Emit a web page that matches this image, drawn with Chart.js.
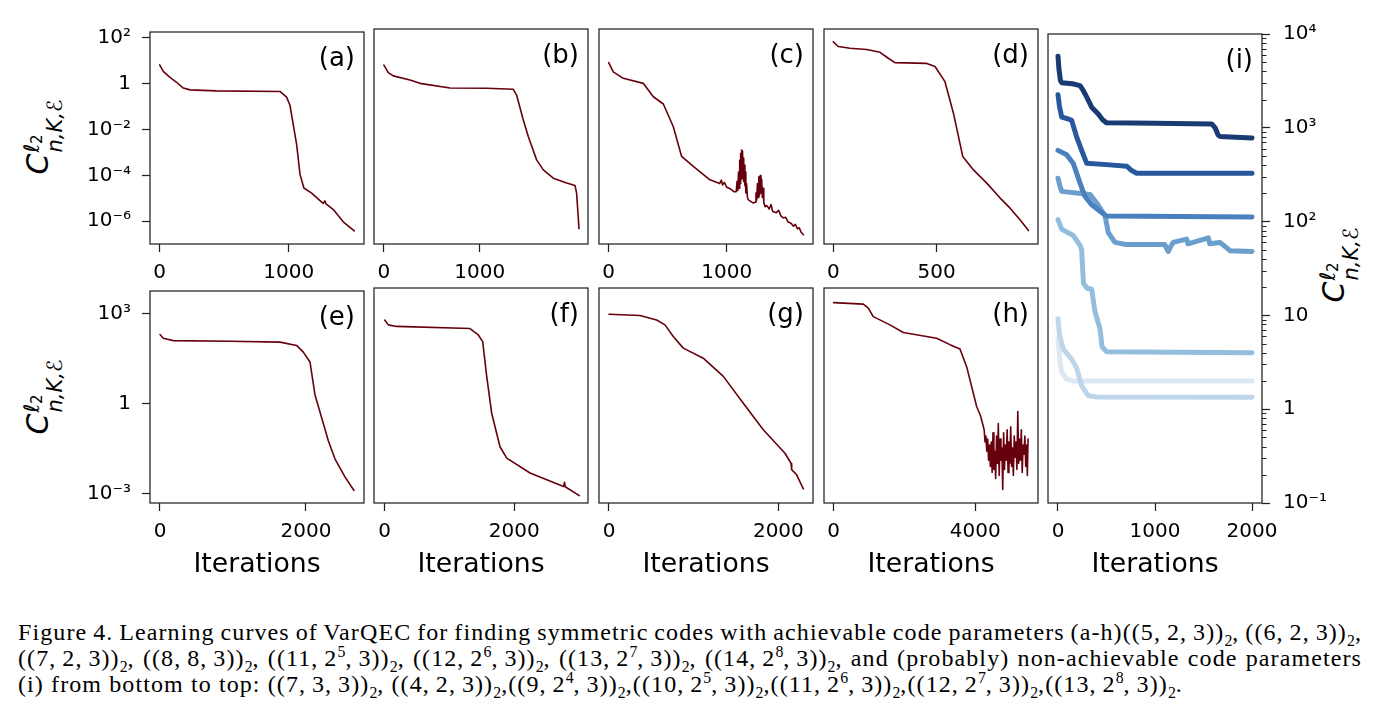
<!DOCTYPE html>
<html>
<head>
<meta charset="utf-8">
<title>VarQEC learning curves</title>
<script src="https://cdn.jsdelivr.net/npm/chart.js@4.4.1/dist/chart.umd.min.js"></script>
<style>
body{margin:0;background:#fff;width:1382px;height:716px;position:relative;overflow:hidden;font-family:"DejaVu Sans",sans-serif;color:#000;}
canvas{position:absolute;}
.ylab{position:absolute;transform:translate(-50%,-50%) rotate(-90deg);white-space:nowrap;font-size:30px;font-style:italic;line-height:1;}
.ss{display:inline-flex;flex-direction:column;font-size:0.7em;line-height:1;vertical-align:0.42em;margin-left:1px;}
.ss .up{font-style:italic;}
.ss .up sub{font-style:normal;font-size:0.72em;vertical-align:-0.2em;}
.cap{position:absolute;left:18px;font-family:"Liberation Serif","DejaVu Serif",serif;font-size:24px;letter-spacing:1.1px;white-space:nowrap;line-height:1;}
.cap sub,.cap sup{font-size:0.66em;line-height:0;letter-spacing:0;}
</style>
</head>
<body>

<div class="ylab" style="left:44px;top:137px">C<span class="ss"><span class="up">ℓ<sub>2</sub></span><span>n,K,ℰ</span></span></div>
<div class="ylab" style="left:44px;top:397px">C<span class="ss"><span class="up">ℓ<sub>2</sub></span><span>n,K,ℰ</span></span></div>
<div class="ylab" style="left:1340px;top:265px">C<span class="ss"><span class="up">ℓ<sub>2</sub></span><span>n,K,ℰ</span></span></div>

<div class="cap just" style="top:620px">Figure 4. Learning curves of VarQEC for finding symmetric codes with achievable code parameters (a-h)((5,&thinsp;2,&thinsp;3))<sub>2</sub>, ((6,&thinsp;2,&thinsp;3))<sub>2</sub>,</div>
<div class="cap just" style="top:646px">((7,&thinsp;2,&thinsp;3))<sub>2</sub>, ((8,&thinsp;8,&thinsp;3))<sub>2</sub>, ((11,&thinsp;2<sup>5</sup>,&thinsp;3))<sub>2</sub>, ((12,&thinsp;2<sup>6</sup>,&thinsp;3))<sub>2</sub>, ((13,&thinsp;2<sup>7</sup>,&thinsp;3))<sub>2</sub>, ((14,&thinsp;2<sup>8</sup>,&thinsp;3))<sub>2</sub>, and (probably) non-achievable code parameters</div>
<div class="cap" style="top:672px">(i) from bottom to top: ((7,&thinsp;3,&thinsp;3))<sub>2</sub>, ((4,&thinsp;2,&thinsp;3))<sub>2</sub>,((9,&thinsp;2<sup>4</sup>,&thinsp;3))<sub>2</sub>,((10,&thinsp;2<sup>5</sup>,&thinsp;3))<sub>2</sub>,((11,&thinsp;2<sup>6</sup>,&thinsp;3))<sub>2</sub>,((12,&thinsp;2<sup>7</sup>,&thinsp;3))<sub>2</sub>,((13,&thinsp;2<sup>8</sup>,&thinsp;3))<sub>2</sub>.</div>

<script>
// ---- data (iterations / cost) ----
var aIter = [0, 28, 80, 131, 183, 235, 441, 932, 984, 1010, 1036, 1062, 1088, 1118, 1178, 1243, 1268, 1281, 1290, 1346, 1423, 1470, 1509];
var aCost = [6.7, 3.5, 1.9, 1.16, 0.65, 0.54, 0.49, 0.46, 0.26, 0.115, 0.016, 2.2e-3, 1.1e-4, 2.8e-5, 1.66e-5, 7.9e-6, 6.0e-6, 7.6e-6, 5.6e-6, 3.2e-6, 9.3e-7, 5.6e-7, 3.7e-7];

var bIter = [0, 45, 97, 272, 376, 690, 1073, 1351, 1386, 1456, 1508, 1595, 1665, 1769, 1909, 1996, 2013, 2038];
var bCost = [5.1, 2.4, 1.74, 1.16, 0.83, 0.52, 0.51, 0.46, 0.26, 0.022, 4.3e-3, 4.2e-4, 1.55e-4, 6.8e-5, 4.2e-5, 3.3e-5, 1.55e-5, 4.6e-7];

var cIter = [0, 39, 124, 293, 378, 463, 547, 618, 717, 858, 940, 955, 965, 980, 1000, 1020, 1040, 1060,
  1080, 1088, 1094, 1100, 1106, 1110, 1114, 1118, 1122, 1126, 1130, 1134, 1138, 1142, 1146, 1150, 1154, 1158, 1162, 1168, 1176, 1184, 1226,
  1240, 1248, 1254, 1260, 1266, 1272, 1278, 1284, 1290, 1296, 1302, 1308, 1314, 1325,
  1340, 1360, 1375, 1390, 1420, 1440, 1460, 1480, 1500, 1520, 1545, 1565, 1580, 1600, 1615, 1630, 1650];
var cCost = [6.5, 2.6, 1.37, 0.83, 0.22, 0.107, 0.0115, 5.9e-4, 2.2e-4, 5.8e-5, 4.0e-5, 5.6e-5, 3.5e-5, 4.5e-5, 2.8e-5, 2.5e-5, 2.2e-5, 1.8e-5,
  1.78e-5, 5.0e-5, 2.0e-5, 1.26e-4, 2.5e-5, 3.98e-4, 4.0e-5, 7.9e-4, 6.3e-5, 1.12e-3, 1.26e-4, 1.0e-3, 7.9e-5, 5.0e-4, 5.0e-5, 2.5e-4, 3.2e-5, 1.26e-4, 1.58e-5, 4.0e-5, 1.0e-5, 7.9e-6, 5.8e-6,
  6.3e-6, 1.58e-5, 7.9e-6, 4.0e-5, 1.0e-5, 7.9e-5, 1.26e-5, 8.9e-5, 1.58e-5, 6.3e-5, 1.0e-5, 2.5e-5, 6.3e-6, 4.0e-6,
  4.5e-6, 3.2e-6, 5.0e-6, 2.5e-6, 2.24e-6, 2.8e-6, 1.58e-6, 1.32e-6, 1.41e-6, 8.9e-7, 7.9e-7, 5.8e-7, 7.1e-7, 4.5e-7, 5.0e-7, 3.2e-7, 2.5e-7];

var dIter = [0, 24, 81, 161, 226, 266, 298, 452, 492, 540, 581, 626, 678, 742, 807, 855, 903, 944];
var dCost = [51, 32, 27, 24, 18, 10, 6.5, 6.0, 4.4, 0.98, 0.043, 5.9e-4, 1.55e-4, 4.2e-5, 9.5e-6, 3.5e-6, 1.1e-6, 3.8e-7];

var eIter = [0, 45, 182, 959, 1644, 1872, 1963, 2055, 2123, 2215, 2306, 2397, 2534, 2658];
var eCost = [200, 151, 126, 120, 112, 87, 52, 24.5, 2.0, 0.34, 0.059, 0.0148, 3.7e-3, 1.3e-3];

var fIter = [0, 56, 185, 1316, 1445, 1512, 1574, 1651, 1779, 1883, 2242, 2760, 2775, 2785, 3003];
var fCost = [500, 347, 309, 263, 162, 98, 7.1, 0.44, 0.035, 0.0148, 4.8e-3, 1.74e-3, 2.4e-3, 1.7e-3, 8.7e-4];

var gIter = [0, 366, 563, 661, 759, 877, 1113, 1350, 1586, 1822, 2078, 2137, 2150, 2157, 2216, 2295];
var gCost = [776, 708, 500, 347, 145, 60, 28, 7.1, 0.93, 0.126, 0.0214, 0.0115, 0.0098, 6.2e-3, 4.2e-3, 1.45e-3];

var hIter = [0, 836, 977, 1118, 1589, 1966, 2907, 3284, 3567, 3755, 4040, 4150,
  4250, 4275, 4300, 4325, 4350, 4375, 4400, 4425, 4450, 4475, 4500, 4525, 4550, 4575, 4600, 4625, 4650, 4675, 4700, 4725, 4750, 4775, 4800, 4825,
  4850, 4875, 4900, 4925, 4950, 4975, 5000, 5025, 5050, 5075, 5100, 5125, 5150, 5175, 5200, 5225, 5250, 5275, 5300, 5325, 5350, 5375, 5400, 5425, 5450, 5470, 5490];
var hCost = [1860, 1660, 1230, 646, 347, 195, 126, 78, 56, 14.8, 0.72, 0.355,
  0.126, 0.05, 0.079, 0.025, 0.063, 0.0126, 0.04, 7.9e-3, 0.05, 5.0e-3, 0.1, 6.3e-3, 0.025, 3.2e-3, 0.079, 0.01, 0.2, 4.0e-3, 0.063, 0.0126, 0.032, 1.4e-3, 0.1, 6.3e-3,
  0.04, 0.0126, 0.126, 5.0e-3, 0.05, 0.01, 0.158, 7.9e-3, 0.032, 4.0e-3, 0.079, 0.0158, 0.05, 6.3e-3, 0.5, 0.01, 0.063, 0.0126, 0.126, 5.0e-3, 0.04, 0.02, 0.079, 7.9e-3, 0.04, 4.0e-3, 0.063];

// panel (i): non-achievable parameters, top curve first
var i1Iter = [0, 10, 25, 38, 150, 227, 260, 295, 347, 413, 460, 500, 1000, 1585, 1620, 1650, 1670, 2000];
var i1Cost = [5800, 4200, 3200, 3030, 2950, 2820, 2500, 2140, 1660, 1410, 1220, 1130, 1120, 1100, 1000, 840, 810, 780];
var i2Iter = [0, 15, 38, 100, 141, 192, 244, 295, 500, 708, 760, 811, 2000];
var i2Cost = [2250, 1700, 1300, 1250, 1200, 800, 575, 420, 405, 390, 350, 328, 328];
var i3Iter = [0, 89, 158, 227, 278, 347, 433, 500, 2000];
var i3Cost = [575, 515, 417, 257, 186, 151, 129, 115, 112];
var i4Iter = [0, 20, 38, 330, 399, 485, 519, 588, 700, 1100, 1137, 1165, 1186, 1326, 1340, 1550, 1565, 1670, 1773, 2000];
var i4Cost = [290, 240, 210, 195, 158, 115, 76, 60, 57, 57, 48, 55, 60, 65, 58, 67, 58, 60, 49, 48];
var i5Iter = [0, 38, 158, 227, 244, 255, 263, 300, 347, 381, 433, 455, 502, 2000];
var i5Cost = [105, 83, 71, 56, 50, 30, 22, 19.5, 19, 11, 7.2, 4.6, 4.1, 4.0];
var i6Iter = [0, 15, 54, 141, 192, 244, 310, 400, 2000];
var i6Cost = [9.2, 6.2, 4.4, 3.4, 2.76, 1.78, 1.4, 1.35, 1.34];
var i7Iter = [0, 20, 38, 89, 150, 2000];
var i7Cost = [5.6, 3.3, 2.5, 2.1, 2.0, 2.0];

var topTicks = [1e-6, 1e-4, 1e-2, 1, 1e2];
var topTickLabels = ['10⁻⁶', '10⁻⁴', '10⁻²', '1', '10²'];
var botTicks = [1e-3, 1, 1e3];
var botTickLabels = ['10⁻³', '1', '10³'];
var iTicks = [0.1, 1, 10, 100, 1000, 10000];
var iTickLabels = ['10⁻¹', '1', '10', '10²', '10³', '10⁴'];

var red = '#67000d';
var blues = ['#1a3a73', '#27579d', '#4a80bd', '#6a9fcd', '#94bedd', '#bfd6ea', '#dce8f4'];
var FONT = 'DejaVu Sans';
var INK = '#222';

function panel(p) {
  var padL = p.yShow ? 150 : 10;
  var padR = p.yRight ? 120 : 34;
  var padT = 20, padB = p.title ? 80 : 50;
  var cv = document.createElement('canvas');
  var w = p.w + padL + padR, h = p.h + padT + padB;
  cv.width = w; cv.height = h;
  cv.style.left = (p.l - padL) + 'px';
  cv.style.top = (p.t - padT) + 'px';
  cv.style.width = w + 'px';
  cv.style.height = h + 'px';
  document.body.appendChild(cv);

  var deco = {
    id: 'deco',
    afterDraw: function (c) {
      var a = c.chartArea, ctx = c.ctx;
      ctx.save();
      ctx.strokeStyle = INK;
      ctx.lineWidth = 1.25;
      ctx.strokeRect(a.left, a.top, a.right - a.left, a.bottom - a.top);
      if (p.minor) {
        var s = c.scales.y;
        ctx.beginPath();
        p.minor.forEach(function (v) {
          var y = Math.round(s.getPixelForValue(v)) + 0.5;
          ctx.moveTo(a.right, y);
          ctx.lineTo(a.right + 4.5, y);
        });
        ctx.lineWidth = 1;
        ctx.stroke();
      }
      ctx.fillStyle = '#000';
      ctx.font = '26px "' + FONT + '"';
      ctx.textAlign = 'right';
      ctx.textBaseline = 'middle';
      ctx.fillText(p.label, a.right - 9, a.top + 27);
      ctx.restore();
    }
  };

  new Chart(cv, {
    type: 'line',
    data: {
      datasets: p.series.map(function (s) {
        return {
          data: s.x.map(function (x, i) { return { x: x, y: s.y[i] }; }),
          borderColor: s.color, borderWidth: s.width, pointRadius: 0, tension: 0,
          borderCapStyle: 'round', borderJoinStyle: 'round', fill: false
        };
      })
    },
    options: {
      responsive: false, animation: false, devicePixelRatio: 1,
      layout: { padding: { left: p.yRight ? padL : 0, right: p.yRight ? 0 : padR, top: padT, bottom: 0 } },
      plugins: { legend: { display: false }, tooltip: { enabled: false } },
      scales: {
        x: {
          type: 'linear', min: p.xMin, max: p.xMax, bounds: 'data',
          afterBuildTicks: function (s) { s.ticks = p.xTicks.map(function (v) { return { value: v }; }); },
          afterFit: function (s) { s.height = padB; },
          ticks: { autoSkip: false, maxRotation: 0, padding: 9, color: '#000', font: { family: FONT, size: 20 },
            callback: function (v) { return String(v); } },
          grid: { display: true, drawOnChartArea: false, drawTicks: true, tickLength: 8, tickColor: INK, tickWidth: 1.25 },
          border: { display: false },
          title: { display: !!p.title, text: 'Iterations', color: '#000', font: { family: FONT, size: 26.7 }, padding: { top: 0, bottom: 2 } }
        },
        y: {
          type: 'logarithmic', position: p.yRight ? 'right' : 'left', min: p.yMin, max: p.yMax, bounds: 'data',
          afterBuildTicks: function (s) { s.ticks = p.yTicks.map(function (v) { return { value: v, major: true }; }); },
          afterFit: function (s) { s.width = p.yRight ? padR : padL; },
          ticks: { display: !!(p.yShow || p.yRight), autoSkip: false, padding: p.yRight ? 13 : 11, color: '#000',
            font: { family: FONT, size: 20 },
            callback: function (v, i) { return p.yLabels[i]; } },
          grid: { display: !!(p.yShow || p.yRight), drawOnChartArea: false, drawTicks: true, tickLength: 8, tickColor: INK, tickWidth: 1.25 },
          border: { display: false }
        }
      }
    },
    plugins: [deco]
  });
}

function redLine(x, y) { return [{ x: x, y: y, color: red, width: 1.6 }]; }

var topRow = { t: 29, h: 215, yMin: 1e-7, yMax: 182, yTicks: topTicks, yLabels: topTickLabels };
var botRow = { t: 288, h: 215, yMin: 5e-4, yMax: 5623, yTicks: botTicks, yLabels: botTickLabels, title: true };

function merge(a, b) { var o = {}; for (var k in a) o[k] = a[k]; for (var k2 in b) o[k2] = b[k2]; return o; }

panel(merge(topRow, { l: 150, w: 214, label: '(a)', yShow: true, xMin: -75, xMax: 1584, xTicks: [0, 1000], series: redLine(aIter, aCost) }));
panel(merge(topRow, { l: 374, w: 214, label: '(b)', xMin: -104, xMax: 2132, xTicks: [0, 1000], series: redLine(bIter, bCost) }));
panel(merge(topRow, { l: 599, w: 214, label: '(c)', xMin: -82, xMax: 1731, xTicks: [0, 1000], series: redLine(cIter, cCost) }));
panel(merge(topRow, { l: 824, w: 214, label: '(d)', xMin: -45, xMax: 990, xTicks: [0, 500], series: redLine(dIter, dCost) }));

panel(merge(botRow, { l: 150, w: 214, label: '(e)', yShow: true, xMin: -137, xMax: 2795, xTicks: [0, 2000], series: redLine(eIter, eCost) }));
panel(merge(botRow, { l: 374, w: 214, label: '(f)', xMin: -165, xMax: 3137, xTicks: [0, 2000], series: redLine(fIter, fCost) }));
panel(merge(botRow, { l: 599, w: 214, label: '(g)', xMin: -118, xMax: 2409, xTicks: [0, 2000], series: redLine(gIter, gCost) }));
panel(merge(botRow, { l: 824, w: 214, label: '(h)', xMin: -274, xMax: 5771, xTicks: [0, 4000], series: redLine(hIter, hCost) }));

var minorI = [];
[0.1, 1, 10, 100, 1000].forEach(function (d) { for (var k = 2; k <= 9; k++) minorI.push(k * d); });

panel({ l: 1048, t: 29, w: 214, h: 474, label: '(i)', yRight: true, title: true,
  yMin: 0.1, yMax: 10000, yTicks: iTicks, yLabels: iTickLabels, minor: minorI,
  xMin: -103, xMax: 2103, xTicks: [0, 1000, 2000],
  series: [
    { x: i1Iter, y: i1Cost, color: blues[0], width: 5 },
    { x: i2Iter, y: i2Cost, color: blues[1], width: 5 },
    { x: i3Iter, y: i3Cost, color: blues[2], width: 5 },
    { x: i4Iter, y: i4Cost, color: blues[3], width: 5 },
    { x: i5Iter, y: i5Cost, color: blues[4], width: 5 },
    { x: i6Iter, y: i6Cost, color: blues[5], width: 5 },
    { x: i7Iter, y: i7Cost, color: blues[6], width: 5 }
  ] });

// justify the caption lines to the text width
document.querySelectorAll('.cap.just').forEach(function (el) {
  var n = (el.textContent.match(/ /g) || []).length;
  var extra = 1344 - el.getBoundingClientRect().width;
  el.style.wordSpacing = (extra / n) + 'px';
});
</script>
</body>
</html>
